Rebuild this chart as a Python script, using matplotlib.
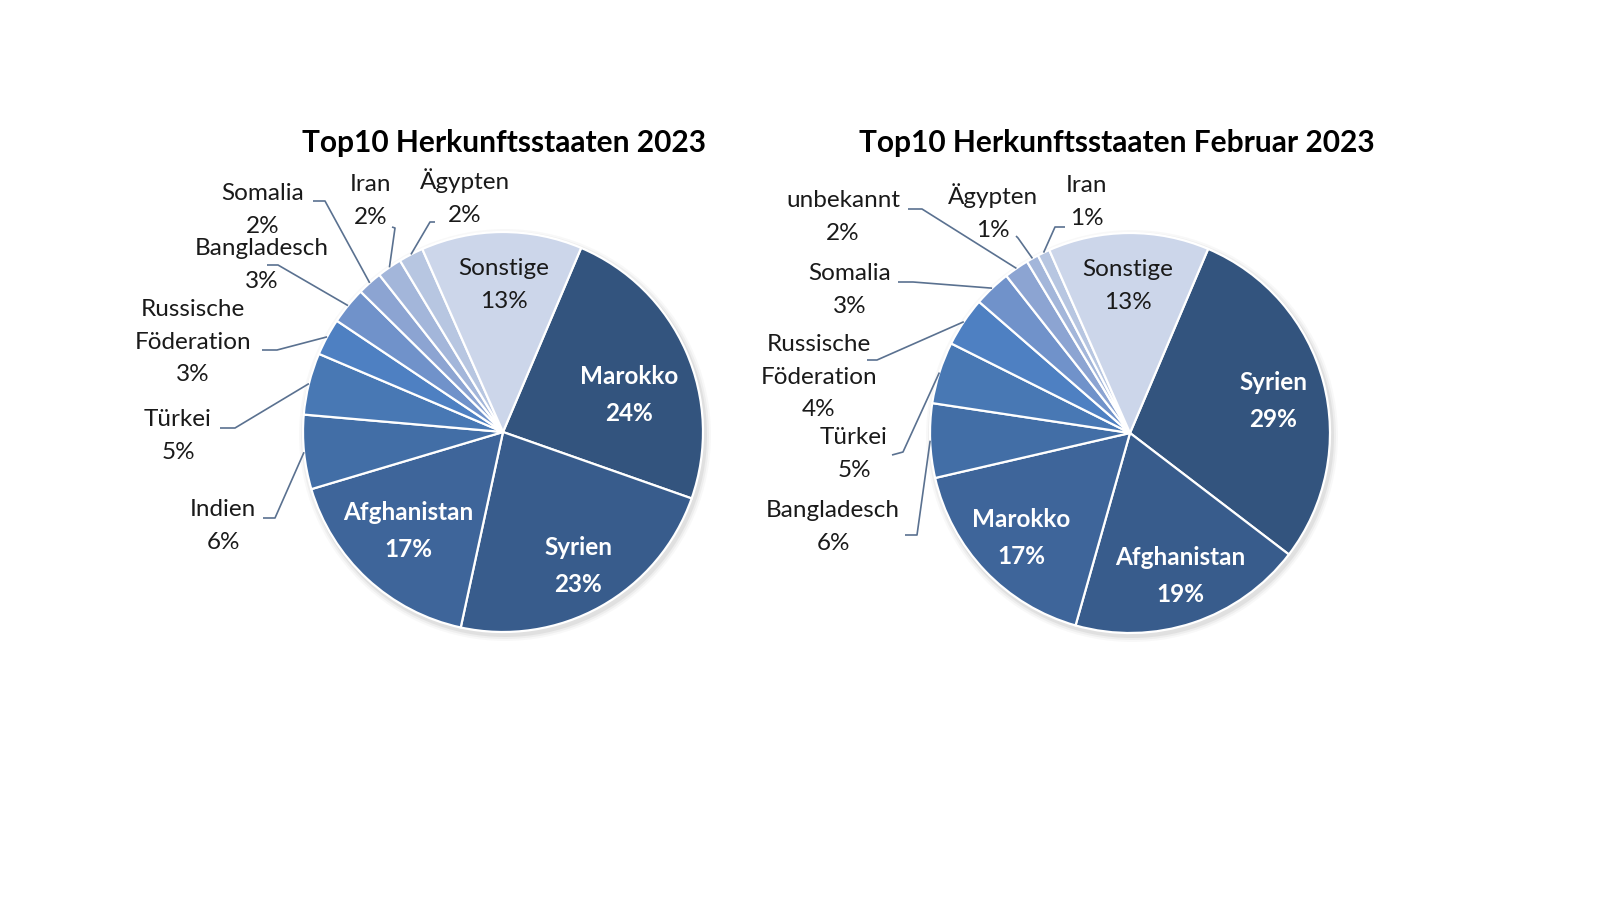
import numpy as np
import matplotlib
matplotlib.use("Agg")
from matplotlib import pyplot as plt
from matplotlib.patches import Circle

# data
labels_2023 = ["Marokko", "Syrien", "Afghanistan", "Indien", "Türkei",
               "Russische\nFöderation", "Bangladesch", "Somalia", "Iran",
               "Ägypten", "Sonstige"]
anteil_2023 = [24, 23, 17, 6, 5, 3, 3, 2, 2, 2, 13]

labels_feb = ["Syrien", "Afghanistan", "Marokko", "Bangladesch", "Türkei",
              "Russische\nFöderation", "Somalia", "unbekannt", "Ägypten",
              "Iran", "Sonstige"]
anteil_feb = [29, 19, 17, 6, 5, 4, 3, 2, 1, 1, 13]

titles = ["Top10 Herkunftsstaaten 2023", "Top10 Herkunftsstaaten Februar 2023"]

colors = ["#33547e", "#385c8c", "#3e659a", "#426ea6", "#4878b4", "#4e80c2",
          "#7092ca", "#8ca4d2", "#a3b6da", "#b7c6e1", "#ccd6ea"]

W, H = 1616, 913
R = 200

# layout in pixel coords (x from left, y from top)
# per slice: text centre, (tick start, knee) for leader lines or None if inside
layout_2023 = dict(
    center=(503, 432), title=(504, 143),
    text=[(629, 395), (578, 566), (408, 531), (223, 526), (178, 436),
          (193, 342), (262, 265), (263, 210), (371, 201), (465, 197),
          (504, 285)],
    lines=[None, None, None, ((263, 518), (275, 518)), ((220, 428), (235, 428)),
           ((262, 350), (277, 350)), ((267, 265), (278, 265)),
           ((313, 201), (325, 201)), ((392, 227), (395, 228)),
           ((435, 222), (430, 222)), None],
)
layout_feb = dict(
    center=(1130, 433), title=(1117, 143),
    text=[(1273, 401), (1180, 576), (1021, 538), (833, 527), (854, 454),
          (819, 377), (850, 290), (843, 217), (993, 212), (1087, 202),
          (1128, 286)],
    lines=[None, None, None, ((905, 535), (917, 535)), ((892, 455), (903, 452)),
           ((867, 360), (877, 360)), ((898, 282), (913, 282)),
           ((908, 209), (922, 209)), ((1016, 236), (1018, 238)),
           ((1065, 227), (1055, 227)), None],
)

FONT = ["Lato", "DejaVu Sans"]
plt.rcParams["font.family"] = FONT

fig = plt.figure(figsize=(W / 100, H / 100), dpi=100)
ax = fig.add_axes([0, 0, 1, 1])


def P(p):
    return p[0], H - p[1]


def draw_pie(labels, values, lay, title):
    cx, cy = P(lay["center"])
    # soft shadow
    for k, a in [(6, 0.05), (4, 0.08), (2, 0.12)]:
        ax.add_patch(Circle((cx + 2, cy - 3), R + k, color="#808080", alpha=a,
                            lw=0, zorder=0))
    wedges, _ = ax.pie(values, center=(cx, cy), radius=R, startangle=67,
                       counterclock=False, colors=colors,
                       wedgeprops=dict(edgecolor="white", linewidth=1.6))
    for w in wedges:
        w.set_zorder(2)
    total = sum(values)
    for i, (lab, v, w) in enumerate(zip(labels, values, wedges)):
        pct = f"{round(100 * v / total)}%"
        tx, ty = P(lay["text"][i])
        inside = lay["lines"][i] is None
        big = inside and lab != "Sonstige"
        ax.text(tx, ty, f"{lab}\n{pct}", ha="center", va="center",
                fontsize=17.5, linespacing=1.7,
                color="white" if big else "#1a1a1a",
                fontweight="bold" if big else "normal", zorder=5)
        if not inside:
            mid = np.deg2rad((w.theta1 + w.theta2) / 2)
            ex, ey = cx + R * np.cos(mid), cy + R * np.sin(mid)
            s, k = lay["lines"][i]
            sx, sy = P(s)
            kx, ky = P(k)
            ax.plot([sx, kx, ex], [sy, ky, ey], color="#5a7190", lw=1.2,
                    zorder=3, solid_capstyle="butt")
    tx, ty = P(lay["title"])
    ax.text(tx, ty, title, ha="center", va="center", fontsize=21.5,
            fontweight="bold", color="black")


draw_pie(labels_2023, anteil_2023, layout_2023, titles[0])
draw_pie(labels_feb, anteil_feb, layout_feb, titles[1])

ax.set_xlim(0, W)
ax.set_ylim(0, H)
ax.set_aspect("equal")
ax.axis("off")

fig.savefig("out.png", dpi=100, facecolor="white")
